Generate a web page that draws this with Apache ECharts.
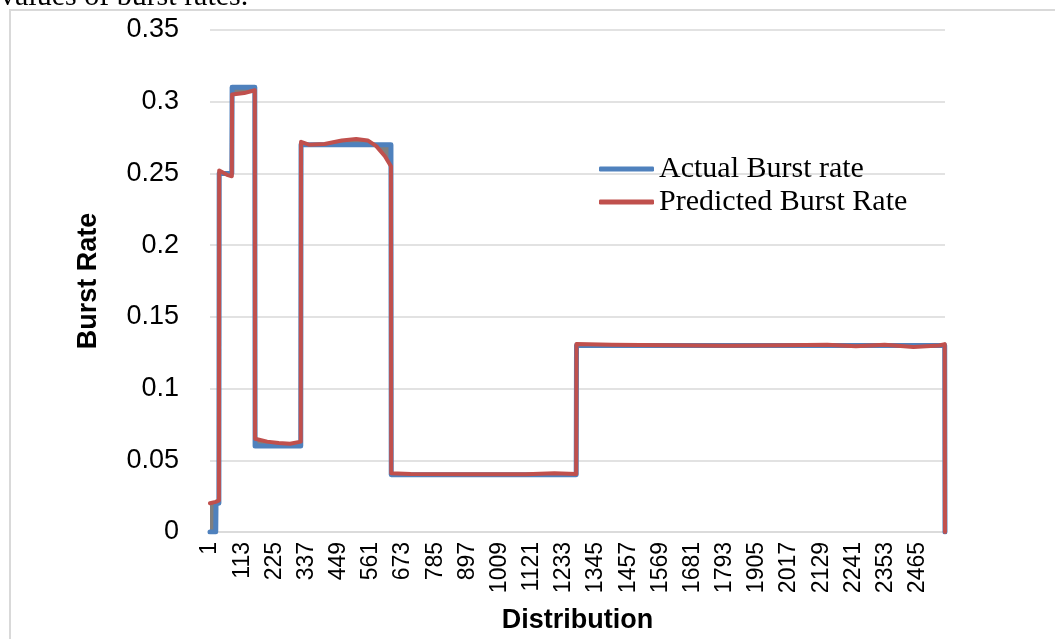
<!DOCTYPE html>
<html><head><meta charset="utf-8">
<script src="https://cdn.jsdelivr.net/npm/echarts@6/dist/echarts.min.js"></script>
<style>html,body{margin:0;padding:0;background:#fff}#c{width:1055px;height:639px}</style>
</head><body><div id="c"></div>
<script>
// Number of distribution points (category axis 1..N)
var pointCount = 2560;
var labelStep = 112;
var yTicks = [0, 0.05, 0.1, 0.15, 0.2, 0.25, 0.3, 0.35];
// Breakpoints (category number) with actual and predicted values
var breakX    = [1,    21,    22,    32,    33,    60,    77,    78,    120,   157,   158,   200,   240,   280,    317,   318,   345,  400,    460,   510,   550,   580,   610,   631,   632,   700,    900,    1100,   1200,  1276,   1277,  1400,   1600,   1800,   2000,   2150,   2250,   2350,   2450,  2540, 2559,  2560];
var actual    = [0,    0,     0.02,  0.02,  0.25,  0.25,  0.25,  0.31,  0.31,  0.31,  0.06,  0.06,  0.06,  0.06,   0.06,  0.27,  0.27, 0.27,   0.27,  0.27,  0.27,  0.27,  0.27,  0.27,  0.04,  0.04,   0.04,   0.04,   0.04,  0.04,   0.13,  0.13,   0.13,   0.13,   0.13,   0.13,   0.13,   0.13,   0.13,  0.13, 0.13,  0];
var predicted = [0.02, 0.021, 0.021, 0.022, 0.252, 0.249, 0.248, 0.305, 0.306, 0.308, 0.065, 0.063, 0.062, 0.0615, 0.063, 0.272, 0.27, 0.2705, 0.273, 0.274, 0.273, 0.269, 0.262, 0.255, 0.041, 0.0405, 0.0402, 0.0403, 0.041, 0.0405, 0.131, 0.1305, 0.1302, 0.1298, 0.1302, 0.1305, 0.1295, 0.1305, 0.129, 0.13, 0.131, 0];

var categories = [];
for (var i = 1; i <= pointCount; i++) categories.push(String(i));
function pairs(vals){ return breakX.map(function(x,k){ return [x-1, vals[k]]; }); }
var lowVals = breakX.map(function(x,k){ return [x-1, Math.min(actual[k], predicted[k])]; });
var gapVals = breakX.map(function(x,k){ return [x-1, Math.abs(actual[k]-predicted[k])]; });

var chart = echarts.init(document.getElementById('c'), null, {renderer:'canvas'});
chart.setOption({
  animation: false,
  backgroundColor: '#ffffff',
  graphic: [
    {type:'rect', shape:{x:10, y:10, width:1100, height:700}, style:{fill:'none', stroke:'#d9d9d9', lineWidth:2}, z:-1},
    {type:'text', x:0, y:12, style:{text:'values of burst rates.', x:0, y:0, verticalAlign:'bottom', align:'left', font:'30px "Liberation Serif"', fill:'#000'}, z:10}
  ],
  grid: {left:210, right:110, top:30, bottom:106, containLabel:false},
  legend: {
    orient:'vertical', left:594, top:149, itemWidth:55, itemHeight:5, itemGap:3,
    icon:'roundRect',
    data:['Actual Burst rate','Predicted Burst Rate'],
    textStyle:{fontFamily:'Liberation Serif', fontSize:30, color:'#000', lineHeight:30}
  },
  xAxis: {
    type:'category', data:categories, boundaryGap:false,
    name:'Distribution', nameLocation:'middle', nameGap:75,
    nameTextStyle:{fontFamily:'Liberation Sans', fontWeight:'bold', fontSize:27, color:'#000'},
    axisLine:{lineStyle:{color:'#d9d9d9', width:1.5}},
    axisTick:{show:false},
    axisLabel:{interval:labelStep-1, rotate:90, margin:10, fontFamily:'Liberation Sans', fontSize:23, color:'#000'}
  },
  yAxis: {
    type:'value', min:yTicks[0], max:yTicks[yTicks.length-1], interval:0.05,
    name:'Burst Rate', nameLocation:'middle', nameGap:108,
    nameTextStyle:{fontFamily:'Liberation Sans', fontWeight:'bold', fontSize:27, color:'#000'},
    axisLine:{show:false}, axisTick:{show:false},
    splitLine:{lineStyle:{color:'#d9d9d9', width:1.5}},
    axisLabel:{margin:31, fontFamily:'Liberation Sans', fontSize:27, color:'#000'}
  },
  series: [
    {name:'low', type:'line', data:lowVals, stack:'hl', symbol:'none', lineStyle:{width:0, opacity:0}, silent:true},
    {name:'gap', type:'line', data:gapVals, stack:'hl', symbol:'none', lineStyle:{width:0, opacity:0}, areaStyle:{color:'#7f7f7f', opacity:1}, silent:true},
    {name:'Actual Burst rate', type:'line', data:pairs(actual), symbol:'none', color:'#4f81bd', lineStyle:{width:5, color:'#4f81bd', cap:'round', join:'round'}},
    {name:'Predicted Burst Rate', type:'line', data:pairs(predicted), symbol:'none', color:'#c0504d', lineStyle:{width:4, color:'#c0504d', cap:'round', join:'round'}}
  ]
});
</script></body></html>
